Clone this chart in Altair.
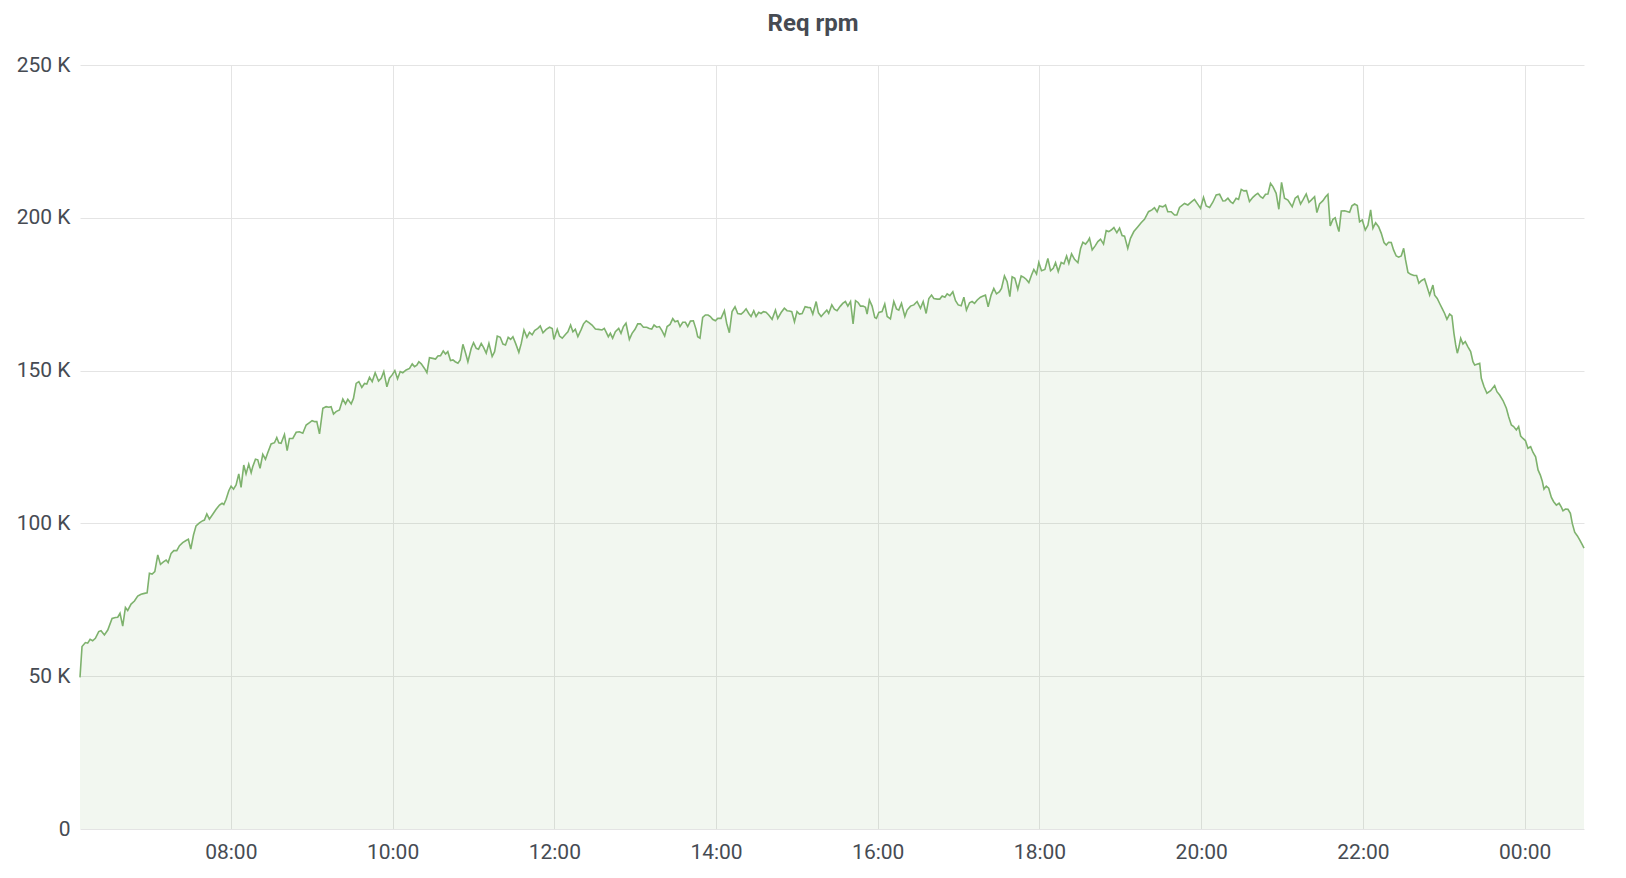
import altair as alt
import pandas as pd

# minutes after 06:00 and request rate in thousands of rpm
minutes_a = [8.1, 9.6, 12.1, 13.8, 15.6, 17.5, 19.5, 22.0, 23.7, 26.2, 28.7, 31.9, 34.4, 36.1, 37.8,
             39.8, 41.8, 43.5, 46.0, 48.5, 50.9, 53.4, 55.9, 57.9, 59.6, 61.6, 63.6, 65.8, 67.8, 70.0,
             72.0, 73.5, 75.7, 77.7, 79.9, 81.9, 84.3, 86.8, 88.5, 90.3, 92.3, 94.2, 96.7, 99.2, 100.4,
             102.2, 104.1, 106.6, 109.1, 111.6, 113.5, 114.8, 116.5, 118.5, 120.2, 122.0, 123.9, 125.9,
             127.6, 129.6, 131.3, 133.3, 135.1, 136.3, 138.3, 140.0, 141.7, 143.7, 145.7, 147.4, 149.9,
             152.4, 154.1, 155.6, 157.3, 159.8, 161.8, 163.5, 166.0, 168.5, 170.9, 173.4, 175.9, 178.4,
             180.3, 182.3, 183.8, 185.8, 188.3, 190.7, 192.7, 194.4, 196.2, 198.1, 200.6]
rpm_k_a = [49.6, 59.7, 61.0, 60.8, 62.1, 61.6, 62.4, 64.6, 64.9, 63.5, 65.1, 68.9, 69.2, 69.3, 70.6,
           66.4, 72.5, 71.5, 73.6, 74.6, 76.2, 76.8, 77.1, 77.3, 83.7, 83.4, 84.2, 89.7, 86.6, 87.4,
           88.0, 87.2, 90.2, 91.1, 91.1, 92.7, 93.7, 94.4, 94.8, 91.6, 96.2, 99.2, 100.2, 100.9, 101.1,
           103.1, 101.4, 103.0, 104.6, 106.0, 106.6, 106.2, 107.9, 110.7, 112.2, 111.2, 112.6, 116.2,
           111.8, 119.1, 116.2, 119.4, 116.6, 118.6, 121.0, 120.8, 118.0, 122.6, 121.0, 123.1, 126.0,
           126.4, 128.1, 126.4, 126.2, 129.1, 123.8, 127.8, 127.8, 129.8, 130.0, 129.5, 132.2, 133.0,
           133.6, 133.3, 133.3, 129.3, 137.7, 138.2, 138.0, 138.2, 135.8, 136.6, 137.1]

minutes_b = [203.1, 205.1, 206.8, 209.3, 211.0, 213.0, 215.0, 217.2, 219.2, 220.9, 222.9, 224.9, 227.1,
             229.6, 231.6, 233.5, 235.8, 237.7, 239.7, 241.7, 243.7, 245.7, 247.6, 250.1, 252.6, 254.6,
             256.3, 258.0, 259.5, 261.3, 263.7, 265.5, 267.4, 269.9, 271.9, 273.6, 275.6, 277.6, 279.3,
             281.0, 283.0, 284.8, 286.5, 288.5, 290.2, 292.2, 294.2, 295.9, 298.4, 300.1, 302.1, 303.8,
             305.8, 307.5, 309.5, 311.5, 313.9, 315.7, 317.7, 319.9, 321.9, 323.8, 325.8, 327.6, 329.3,
             331.3, 333.7, 335.5, 337.5, 339.7, 341.6, 343.6, 345.4, 347.8, 349.6, 351.6, 354.0, 356.5,
             358.5, 359.7, 362.2, 363.9, 365.9, 368.4, 370.1, 372.1, 373.8, 375.6, 377.5, 380.0, 381.7,
             383.7, 385.7]
rpm_k_b = [140.7, 139.1, 140.6, 139.1, 140.9, 145.8, 146.4, 144.5, 145.8, 145.6, 147.8, 146.4, 149.3,
           146.6, 147.5, 149.7, 144.7, 147.5, 148.6, 150.0, 147.3, 149.7, 149.3, 150.2, 150.7, 152.2,
           151.3, 151.8, 152.9, 152.2, 150.7, 149.3, 154.2, 154.0, 153.8, 154.8, 154.9, 156.4, 155.4,
           156.2, 153.3, 153.5, 152.9, 152.4, 153.5, 158.6, 155.7, 152.9, 157.3, 159.1, 157.3, 157.0,
           158.9, 157.6, 155.7, 158.9, 154.6, 156.2, 161.3, 160.9, 158.7, 158.4, 160.9, 160.2, 161.1,
           158.9, 156.0, 158.9, 163.3, 160.9, 162.5, 161.7, 163.1, 163.8, 164.6, 162.4, 163.5, 164.2,
           163.8, 160.2, 163.5, 161.3, 160.6, 161.9, 162.7, 164.9, 162.7, 163.5, 161.1, 163.5, 165.3,
           166.3, 165.7]

minutes_c = [388.0, 390.5, 392.9, 395.4, 397.1, 398.4, 400.1, 401.6, 403.3, 405.3, 407.8, 409.5, 411.3,
             413.2, 415.7, 417.7, 419.9, 421.9, 423.9, 426.1, 428.6, 430.5, 432.3, 434.0, 436.0, 438.0,
             439.9, 441.9, 443.7, 445.9, 447.9, 449.6, 451.6, 453.3, 455.3, 457.3, 459.0, 461.0, 463.2,
             465.2, 466.4, 468.1, 470.1, 472.1, 474.1, 475.8, 477.5, 479.5, 481.3, 483.7, 486.2, 487.9,
             489.9, 491.9, 494.1, 496.1, 498.6, 500.3, 502.3, 504.3, 506.0, 508.0, 509.7, 511.7, 513.4,
             515.2, 517.1, 519.1, 521.6, 524.1, 525.8, 528.3, 530.7, 532.7, 534.4, 536.2, 538.2, 540.1,
             541.9, 543.9, 546.1, 548.1, 550.0, 551.8, 554.3, 556.0, 558.0, 559.9, 562.2, 563.6, 565.9,
             567.8, 569.8, 571.6]
rpm_k_c = [164.9, 163.6, 163.5, 163.3, 163.8, 162.7, 161.1, 162.2, 160.6, 162.7, 163.8, 162.2, 164.4,
           165.5, 160.2, 162.2, 163.5, 165.3, 165.3, 164.2, 164.2, 163.8, 163.6, 164.9, 164.2, 164.4,
           163.1, 161.3, 164.4, 165.1, 167.0, 166.0, 166.3, 164.4, 165.8, 165.8, 164.4, 166.2, 166.3,
           163.5, 161.1, 160.6, 167.4, 168.2, 168.2, 167.7, 166.8, 166.3, 167.1, 167.1, 169.6, 165.5,
           162.4, 169.3, 170.9, 168.7, 168.5, 169.1, 170.2, 168.7, 167.7, 169.6, 167.7, 169.1, 168.7,
           169.3, 169.1, 168.2, 166.8, 169.8, 167.1, 169.0, 170.4, 169.6, 169.5, 169.3, 166.0, 169.3,
           168.5, 168.7, 170.9, 170.7, 170.6, 168.5, 172.6, 168.9, 167.7, 168.7, 169.8, 168.7, 171.5,
           170.1, 169.6, 170.7]

minutes_d = [572.3, 574.0, 576.0, 577.8, 579.8, 581.7, 583.5, 585.4, 587.2, 589.1, 590.9, 592.1, 593.8,
             595.8, 597.8, 599.0, 600.8, 603.2, 605.2, 607.0, 609.4, 611.9, 613.9, 615.6, 617.6, 620.1,
             621.8, 624.3, 626.8, 629.2, 631.7, 633.7, 635.9, 637.9, 639.9, 641.6, 644.1, 646.0, 647.8,
             649.8, 651.5, 653.5, 655.7, 657.7, 659.7, 661.9, 663.9, 665.8, 668.1, 670.0, 671.8, 673.8,
             676.2, 678.2, 679.9, 681.9, 684.1, 686.1, 688.1, 690.3, 691.8, 694.0, 696.0, 698.0, 699.7,
             701.7, 703.9, 706.4, 708.4, 710.1, 712.1, 714.1, 715.8, 717.8, 719.5, 721.5, 724.0, 726.2,
             728.2, 730.2, 731.9, 733.9, 736.1, 738.1, 740.1, 741.8, 743.8, 746.0, 748.5, 750.5, 752.2,
             754.2, 756.1]
rpm_k_d = [171.1, 172.0, 172.6, 171.1, 172.6, 165.3, 172.9, 172.3, 171.1, 171.1, 170.7, 168.5, 173.1,
           171.1, 167.4, 167.1, 169.0, 169.3, 171.8, 167.7, 166.9, 172.6, 170.2, 169.8, 172.0, 167.7,
           169.8, 171.1, 171.5, 172.6, 170.4, 172.6, 168.7, 173.6, 174.7, 173.6, 173.4, 173.4, 174.4,
           174.0, 175.1, 174.5, 175.8, 172.9, 171.5, 171.2, 174.0, 169.8, 172.2, 172.6, 172.0, 173.1,
           174.0, 174.4, 174.7, 170.9, 174.7, 176.9, 175.1, 175.8, 176.9, 181.0, 179.1, 174.2, 180.7,
           180.2, 176.6, 181.0, 180.5, 179.9, 178.8, 181.3, 183.1, 181.6, 185.4, 182.7, 183.1, 186.7,
           182.7, 183.5, 185.3, 182.4, 185.4, 184.9, 187.5, 185.1, 188.2, 186.4, 185.3, 190.0, 192.0,
           191.4, 192.5]

minutes_e = [757.1, 759.1, 761.3, 763.3, 765.3, 767.5, 769.5, 771.4, 773.2, 775.2, 777.4, 779.4, 781.3,
             783.1, 785.5, 787.5, 790.0, 793.0, 795.4, 797.9, 800.9, 803.4, 805.3, 807.3, 809.0, 811.5,
             813.5, 815.2, 817.7, 820.2, 821.9, 823.9, 827.6, 830.1, 832.5, 835.0, 837.5, 839.5, 841.7,
             843.7, 846.2, 848.6, 851.1, 853.6, 856.1, 857.8, 859.8, 861.7, 863.5, 865.9, 867.7, 869.7,
             871.6, 873.6, 875.8, 878.3, 880.3, 882.0, 884.0, 885.7, 887.7, 889.5, 891.4, 893.2, 895.6,
             897.6, 899.6, 901.8, 904.3, 907.5, 909.7, 911.7, 913.7, 915.7, 917.9, 919.9, 921.6, 924.1,
             925.8, 927.8, 930.3, 932.3, 934.0, 935.7, 937.7, 939.4, 941.4]
rpm_k_e = [193.3, 189.5, 190.8, 192.2, 193.0, 191.4, 195.8, 195.5, 196.0, 196.8, 195.1, 196.6, 194.2,
           194.0, 190.0, 193.3, 195.5, 197.1, 198.4, 199.5, 202.0, 202.6, 203.3, 202.0, 203.9, 203.6,
           204.2, 202.0, 202.0, 200.9, 200.9, 203.4, 204.7, 204.2, 205.1, 206.0, 204.4, 203.1, 206.7,
           203.9, 203.4, 205.1, 207.5, 207.7, 205.5, 205.6, 206.4, 205.3, 204.7, 206.4, 206.0, 209.3,
           208.8, 208.9, 205.3, 206.7, 207.5, 208.0, 206.9, 206.4, 207.7, 207.8, 211.3, 210.2, 208.0,
           202.8, 211.6, 206.4, 205.8, 203.6, 206.4, 207.1, 204.5, 206.0, 207.8, 205.1, 205.8, 206.9,
           201.7, 204.5, 205.6, 206.9, 207.7, 197.3, 199.5, 200.0, 196.6]

minutes_f = [942.2, 943.9, 946.4, 948.8, 950.1, 951.8, 953.8, 955.8, 957.5, 959.5, 961.7, 963.7, 965.7,
             967.4, 969.4, 971.6, 973.6, 975.6, 977.3, 979.0, 981.0, 982.7, 984.7, 986.5, 988.4, 990.2,
             991.6, 993.4, 995.4, 997.8, 999.8, 1001.5, 1003.3, 1005.7, 1007.5, 1009.5, 1011.9, 1013.2,
             1015.1, 1017.1, 1018.9, 1020.6, 1022.3, 1024.3, 1026.0, 1027.5, 1028.8, 1030.0, 1031.0,
             1032.5, 1034.2, 1035.9, 1037.9, 1039.9, 1041.6, 1042.9, 1044.6, 1046.6, 1047.8, 1049.8,
             1052.0, 1054.7, 1057.7, 1059.4, 1061.4, 1063.9, 1066.4, 1068.1, 1070.1, 1071.8, 1073.8,
             1075.5, 1077.0, 1078.7, 1080.5, 1082.4, 1084.4, 1086.2, 1088.1, 1089.9, 1091.6, 1093.1,
             1094.3, 1096.0, 1097.8, 1099.8, 1101.5, 1103.5, 1105.5, 1107.2, 1108.4, 1110.2, 1112.1,
             1113.9, 1115.3, 1117.1, 1119.1, 1120.8, 1122.5, 1124.0]
rpm_k_f = [195.5, 202.2, 202.3, 202.0, 201.8, 203.9, 204.5, 204.0, 198.7, 199.3, 196.0, 197.6, 202.6,
           196.6, 198.4, 197.1, 194.9, 191.9, 191.1, 192.0, 191.9, 189.5, 187.5, 187.1, 187.5, 190.0,
           186.2, 182.1, 181.5, 181.1, 181.1, 178.6, 179.4, 180.0, 177.5, 174.7, 178.0, 174.7, 173.6,
           171.8, 170.2, 168.7, 166.8, 168.5, 167.9, 162.2, 158.4, 155.7, 157.3, 160.6, 158.7, 159.5,
           157.8, 156.2, 152.9, 151.8, 152.1, 152.4, 147.5, 144.8, 142.6, 143.4, 145.1, 143.1, 142.0,
           140.2, 137.7, 134.9, 132.2, 131.7, 130.6, 131.7, 128.6, 127.8, 127.1, 124.6, 125.1, 123.2,
           121.8, 117.5, 115.8, 113.7, 111.2, 112.2, 111.5, 108.5, 107.1, 106.0, 106.6, 105.3, 104.1,
           104.7, 104.6, 103.3, 100.0, 97.1, 95.9, 94.6, 93.2, 91.9]

y_ticks = [0, 50, 100, 150, 200, 250]
x_tick_hours = [(1, 8), (1, 10), (1, 12), (1, 14), (1, 16), (1, 18), (1, 20), (1, 22), (2, 0)]

minutes = minutes_a + minutes_b + minutes_c + minutes_d + minutes_e + minutes_f
rpm_k = rpm_k_a + rpm_k_b + rpm_k_c + rpm_k_d + rpm_k_e + rpm_k_f
assert len(minutes) == len(rpm_k), (len(minutes), len(rpm_k))

base = pd.Timestamp("2019-03-01 06:00:00")
df = pd.DataFrame({
    "time": base + pd.to_timedelta(minutes, unit="m"),
    "rpm": rpm_k,
})

GREEN = "#7eb26d"
TEXT = "#464b53"
GRID = "#e4e4e4"
FONT = "Roboto"

x_enc = alt.X(
    "time:T",
    scale=alt.Scale(nice=False),
    axis=alt.Axis(
        values=[alt.DateTime(year=2019, month=3, date=d, hours=h) for d, h in x_tick_hours],
        format="%H:%M", title=None, grid=True, gridColor=GRID, gridWidth=1,
        domain=False, ticks=False, labelPadding=12, labelFontSize=21,
        labelColor=TEXT, labelFont=FONT, labelFlush=False,
    ),
)
y_enc = alt.Y(
    "rpm:Q",
    scale=alt.Scale(domain=[0, 250], nice=False),
    axis=alt.Axis(
        values=y_ticks, title=None, grid=True, gridColor=GRID, gridWidth=1,
        domain=False, ticks=False, labelPadding=10, labelFontSize=21,
        labelColor=TEXT, labelFont=FONT,
        labelExpr="datum.value == 0 ? '0' : datum.value + ' K'",
    ),
)

area = alt.Chart(df).mark_area(color=GREEN, fillOpacity=0.1).encode(x=x_enc, y=y_enc)
line = alt.Chart(df).mark_line(color=GREEN, strokeWidth=1.6).encode(x="time:T", y="rpm:Q")

chart = (
    alt.layer(area, line)
    .properties(
        width=1504,
        height=764,
        title=alt.TitleParams(
            "Req rpm", anchor="middle", dx=-19, fontSize=24, fontWeight="bold",
            font=FONT, color=TEXT, baseline="alphabetic", offset=-1,
        ),
        autosize=alt.AutoSizeParams(type="none"),
        padding={"left": 72, "top": 57, "right": 34, "bottom": 38},
    )
    .configure_view(strokeWidth=0, stroke="transparent")
    .configure(background="white", style={"cell": {"stroke": "transparent", "strokeWidth": 0}})
)

chart.save("out.html", embed_options={"renderer": "svg", "actions": False})
